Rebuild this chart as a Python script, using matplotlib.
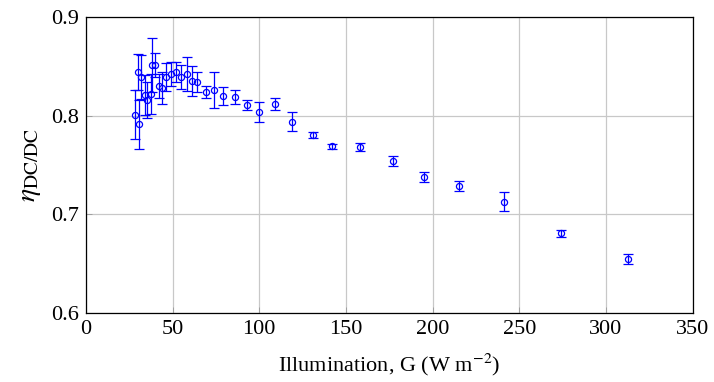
import numpy as np
import matplotlib
matplotlib.use('Agg')
import matplotlib.pyplot as plt

# irradiance (W/m^2) and DC/DC efficiency
illum=[28.5,30.0,30.7,32.0,34.2,35.2,37.3,38.1,39.6,42.1,44.0,46.0,49.2,52.1,55.1,58.1,61.0,63.9,
       69.1,74.0,79.0,86.0,93.1,100.0,109.1,119.0,131.2,142.1,158.1,177.0,195.0,215.1,241.0,273.9,312.9]
eff=[0.801,0.844,0.791,0.839,0.821,0.816,0.822,0.851,0.851,0.830,0.828,0.839,0.842,0.844,0.839,0.842,0.835,0.834,
     0.824,0.826,0.820,0.819,0.811,0.804,0.812,0.794,0.780,0.769,0.768,0.754,0.738,0.729,0.713,0.681,0.655]
err=[0.025,0.018,0.025,0.022,0.020,0.018,0.020,0.027,0.012,0.012,0.016,0.014,0.012,0.010,0.012,0.017,0.015,0.010,
     0.006,0.018,0.009,0.007,0.005,0.010,0.006,0.010,0.003,0.0025,0.004,0.005,0.005,0.005,0.010,0.0034,0.0054]

xticks=[0,50,100,150,200,250,300,350]
yticks=[0.6,0.7,0.8,0.9]

plt.rcParams['font.family']=['Liberation Serif','DejaVu Serif']
plt.rcParams['mathtext.fontset']='stix'

fig=plt.figure(figsize=(7.14,3.82),dpi=100)
ax=fig.add_axes([0.1204,0.1798,0.8496,0.7765])

ax.errorbar(illum,eff,yerr=err,fmt='o',mfc='none',mec='blue',ms=4.4,mew=0.9,
            ecolor='blue',elinewidth=0.9,capsize=3.8,capthick=0.9,color='blue',zorder=3)

ax.set_xlim(0,350)
ax.set_ylim(0.6,0.9)
ax.set_xticks(xticks)
ax.set_yticks(yticks)
ax.set_xticklabels([str(t) for t in xticks])
ax.set_yticklabels([f'{t:.1f}' for t in yticks])
ax.grid(True,color='#c8c8c8',linewidth=0.9,zorder=0)
ax.tick_params(direction='in',length=4,width=0.6,color='#999999',labelsize=16,pad=5)
for s in ax.spines.values():
    s.set_linewidth(0.9)

ax.set_xlabel(r'Illumination, G (W m$^{-2}$)',fontsize=16,labelpad=9)
ax.set_ylabel(r'$\eta_{\mathrm{DC/DC}}$',fontsize=20,labelpad=6)

fig.savefig('out.png',dpi=100)
